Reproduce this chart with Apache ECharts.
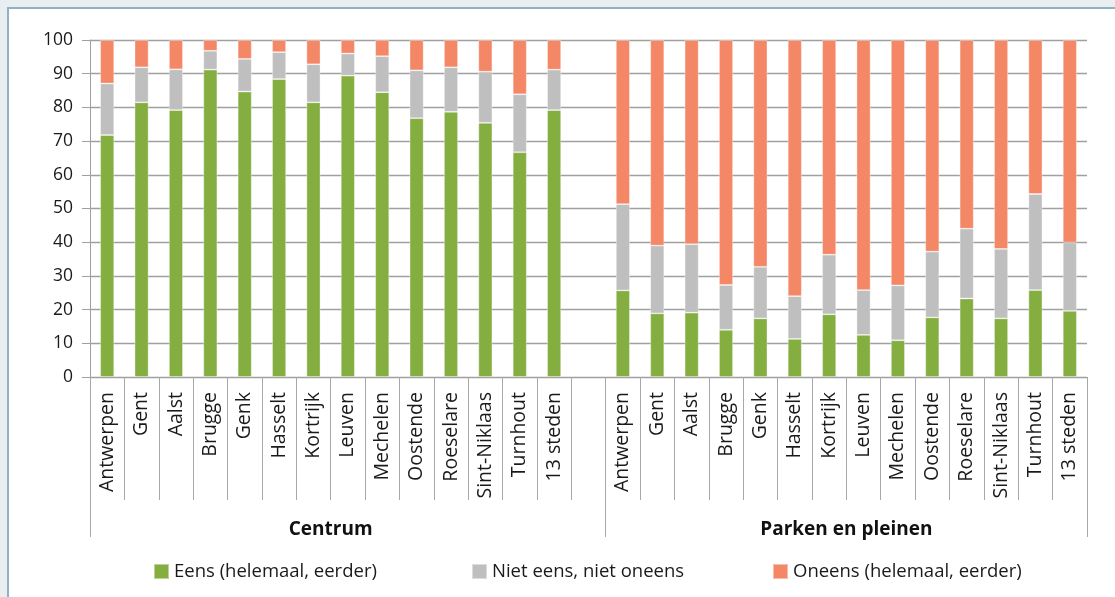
<!DOCTYPE html>
<html>
<head>
<meta charset="utf-8">
<script src="https://cdn.jsdelivr.net/npm/echarts@6/dist/echarts.min.js"></script>
<style>
  html, body { margin: 0; padding: 0; width: 1115px; height: 597px; overflow: hidden; background: #e9eef1; }
  #frame { position: absolute; left: 7px; top: 7px; width: 1120px; height: 600px; background: #ffffff;
           border-left: 2px solid #8eb3c4; border-top: 2px solid #8eb3c4; }
  #chart { position: absolute; left: 0; top: 0; width: 1115px; height: 597px; }
</style>
</head>
<body>
<div id="frame"></div>
<div id="chart"></div>
<script>
const cities = ['Antwerpen', 'Gent', 'Aalst', 'Brugge', 'Genk', 'Hasselt', 'Kortrijk', 'Leuven',
  'Mechelen', 'Oostende', 'Roeselare', 'Sint-Niklaas', 'Turnhout', '13 steden'];
const groups = ['Centrum', 'Parken en pleinen'];
const seriesNames = ['Eens (helemaal, eerder)', 'Niet eens, niet oneens', 'Oneens (helemaal, eerder)'];

const centrumEens   = [71.8, 81.5, 79.2, 91.2, 84.7, 88.4, 81.5, 89.4, 84.5, 76.8, 78.7, 75.4, 66.7, 79.2];
const centrumNiet   = [15.3, 10.4, 12.1, 5.6, 9.7, 8.0, 11.3, 6.6, 10.7, 14.2, 13.2, 15.2, 17.2, 12.0];
const centrumOneens = [12.9, 8.1, 8.7, 3.2, 5.6, 3.6, 7.2, 4.0, 4.8, 9.0, 8.1, 9.4, 16.1, 8.8];

const parkenEens   = [25.7, 18.9, 19.1, 14.0, 17.4, 11.3, 18.6, 12.5, 10.9, 17.7, 23.3, 17.4, 25.8, 19.6];
const parkenNiet   = [25.6, 20.1, 20.3, 13.3, 15.3, 12.7, 17.7, 13.3, 16.3, 19.5, 20.7, 20.6, 28.5, 20.3];
const parkenOneens = [48.7, 61.0, 60.6, 72.7, 67.3, 76.0, 63.7, 74.2, 72.8, 62.8, 56.0, 62.0, 45.7, 60.1];

const yTicks = [0, 10, 20, 30, 40, 50, 60, 70, 80, 90, 100];

// categories: 14 Centrum, one empty gap, 14 Parken
const categories = cities.concat(['']).concat(cities);
const join = (a, b) => a.concat([null]).concat(b);

const colors = ['#85ae41', '#bfbfbf', '#f48766'];
const FONT = 'Open Sans';
const gridLeft = 90, gridRight = 28;

const nCat = categories.length;
const groupStart = [0, cities.length + 1];
const groupEnd = [cities.length + 1, nCat];
const groupCenters = [cities.length / 2, (groupStart[1] + groupEnd[1]) / 2];

const chart = echarts.init(document.getElementById('chart'), null, { renderer: 'canvas' });

const legendLefts = [148, 466, 767];

chart.setOption({
  backgroundColor: 'transparent',
  animation: false,
  textStyle: { fontFamily: FONT },
  legend: seriesNames.map((n, i) => ({
    data: [n], left: legendLefts[i], top: 557, icon: 'rect', itemWidth: 15, itemHeight: 15, itemGap: 6,
    textStyle: { fontFamily: FONT, fontSize: 18.5, color: '#1a1a1a' }, selectedMode: false
  })),
  grid: { left: gridLeft, right: gridRight, top: 40, bottom: 220, containLabel: false },
  xAxis: [
    {
      type: 'category', data: categories, position: 'bottom',
      axisLine: { show: true, lineStyle: { color: '#a0a0a0', width: 1 } },
      axisTick: { show: true, interval: 0, length: 123, lineStyle: { color: '#a8a8a8', width: 1 } },
      axisLabel: { interval: 0, rotate: 90, margin: 15, fontFamily: FONT, fontSize: 19.5, color: '#1a1a1a' },
      splitLine: { show: false }
    },
    {
      type: 'value', min: 0, max: nCat, position: 'bottom',
      axisLine: { show: false },
      axisTick: { show: true, customValues: [0, groupStart[1], nCat], length: 160, lineStyle: { color: '#a8a8a8', width: 1 } },
      axisLabel: {
        customValues: groupCenters, margin: 143, fontFamily: FONT, fontSize: 19, fontWeight: 'bold', color: '#111',
        formatter: v => (Math.abs(v - groupCenters[0]) < 0.01 ? groups[0] : groups[1])
      },
      splitLine: { show: false }
    }
  ],
  yAxis: {
    type: 'value', min: yTicks[0], max: yTicks[yTicks.length - 1], interval: 10,
    axisLine: { show: true, lineStyle: { color: '#a0a0a0', width: 1 } },
    axisTick: { show: true, length: 8, lineStyle: { color: '#a0a0a0' } },
    axisLabel: { margin: 17, fontFamily: FONT, fontSize: 17.5, color: '#1a1a1a' },
    splitLine: { show: true, lineStyle: { color: '#a0a0a0', width: 1.3 } }
  },
  series: [
    { name: seriesNames[0], type: 'bar', stack: 'all', barWidth: 14, data: join(centrumEens, parkenEens),
      itemStyle: { color: colors[0], borderColor: 'rgba(255,255,255,0.45)', borderWidth: 0.8 } },
    { name: seriesNames[1], type: 'bar', stack: 'all', barWidth: 14, data: join(centrumNiet, parkenNiet),
      itemStyle: { color: colors[1], borderColor: 'rgba(255,255,255,0.45)', borderWidth: 0.8 } },
    { name: seriesNames[2], type: 'bar', stack: 'all', barWidth: 14, data: join(centrumOneens, parkenOneens),
      itemStyle: { color: colors[2], borderColor: 'rgba(255,255,255,0.45)', borderWidth: 0.8 } }
  ]
});
</script>
</body>
</html>
